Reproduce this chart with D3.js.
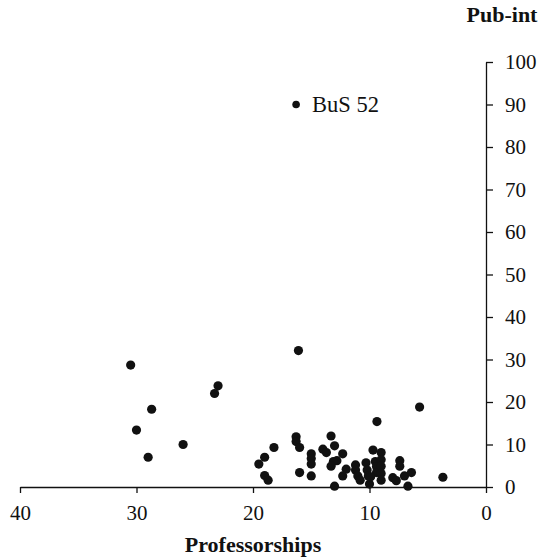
<!DOCTYPE html>
<meta charset="utf-8">
<script src="https://d3js.org/d3.v7.min.js"></script>
<style>
  body { margin: 0; background: #fff; }
  svg { display: block; }
  text { font-family: "Liberation Serif", "Times New Roman", serif; fill: #111; }
</style>
<div id="chart"></div>
<script>
// professorships (x) and pub-int (y)
var profs = [16.3, 30.5, 23.0, 23.3, 28.7, 30.0, 26.0, 29.0, 16.1,
  5.7, 9.36, 18.2, 19.0, 19.5, 19.0, 18.7, 16.3, 16.3, 16.0, 16.0,
  15.0, 15.0, 15.0, 15.0, 14.0, 13.7, 13.3, 13.0, 12.3, 12.8, 13.1, 13.3,
  12.0, 12.3, 13.0, 11.2, 11.2, 11.0, 10.8, 10.3, 10.2, 10.1, 10.0,
  9.7, 9.5, 9.4, 9.4, 9.0, 9.0, 9.0, 9.0, 9.0, 9.9, 8.0, 7.7, 7.4, 7.4,
  7.0, 6.7, 6.4, 3.7];
var pubint = [90, 28.7, 23.8, 22.0, 18.3, 13.4, 10.0, 7.0, 32.1,
  18.8, 15.4, 9.3, 7.0, 5.4, 2.7, 1.6, 11.8, 10.7, 9.3, 3.4,
  7.8, 6.7, 5.4, 2.6, 8.9, 8.1, 12.0, 9.7, 7.8, 6.2, 6.0, 4.9,
  4.2, 2.6, 0.2, 5.2, 4.0, 2.6, 1.6, 5.7, 4.0, 2.6, 0.7,
  8.7, 6.0, 4.8, 3.4, 8.1, 6.4, 4.9, 3.2, 1.6, 2.4, 2.2, 1.5, 6.2, 4.9,
  2.6, 0.2, 3.4, 2.3];
var labelled = {index: 0, text: "BuS 52"};
var xTicks = [40, 30, 20, 10, 0];
var yTicks = [0, 10, 20, 30, 40, 50, 60, 70, 80, 90, 100];

var width = 546, height = 559;
var svg = d3.select("#chart").append("svg")
  .attr("width", width).attr("height", height);

var x = d3.scaleLinear().domain([40, 0]).range([20, 486]);
var y = d3.scaleLinear().domain([0, 100]).range([487, 62]);

// x axis
svg.append("g")
  .attr("transform", "translate(0," + y(0) + ")")
  .call(d3.axisBottom(x).tickValues(xTicks).tickSize(6).tickSizeOuter(0).tickPadding(12));
// y axis (ticks on the right)
svg.append("g")
  .attr("transform", "translate(" + x(0) + ",0)")
  .call(d3.axisRight(y).tickValues(yTicks).tickSize(7).tickSizeOuter(0).tickPadding(12));

svg.selectAll(".domain, .tick line").attr("stroke", "#111").attr("stroke-width", 1.3);
svg.selectAll(".tick text").style("font-size", "21px")
  .attr("font-family", null).style("fill", "#111");

// points
var pts = d3.range(profs.length);
svg.selectAll("circle.pt")
  .data(pts)
  .enter()
  .append("circle")
  .attr("class", "pt")
  .attr("cx", function (i) { return x(profs[i]); })
  .attr("cy", function (i) { return y(pubint[i]); })
  .attr("r", function (i) { return i === labelled.index ? 3.8 : 4.6; })
  .attr("fill", "#111");

svg.append("text")
  .attr("x", x(profs[labelled.index]) + 16)
  .attr("y", y(pubint[labelled.index]) + 7)
  .style("font-size", "22.5px")
  .text(labelled.text);

// axis titles
svg.append("text")
  .attr("x", 253).attr("y", 552)
  .attr("text-anchor", "middle")
  .style("font-size", "22px").style("font-weight", "bold")
  .text("Professorships");

svg.append("text")
  .attr("x", 502).attr("y", 22)
  .attr("text-anchor", "middle")
  .style("font-size", "22px").style("font-weight", "bold")
  .text("Pub-int");
</script>
